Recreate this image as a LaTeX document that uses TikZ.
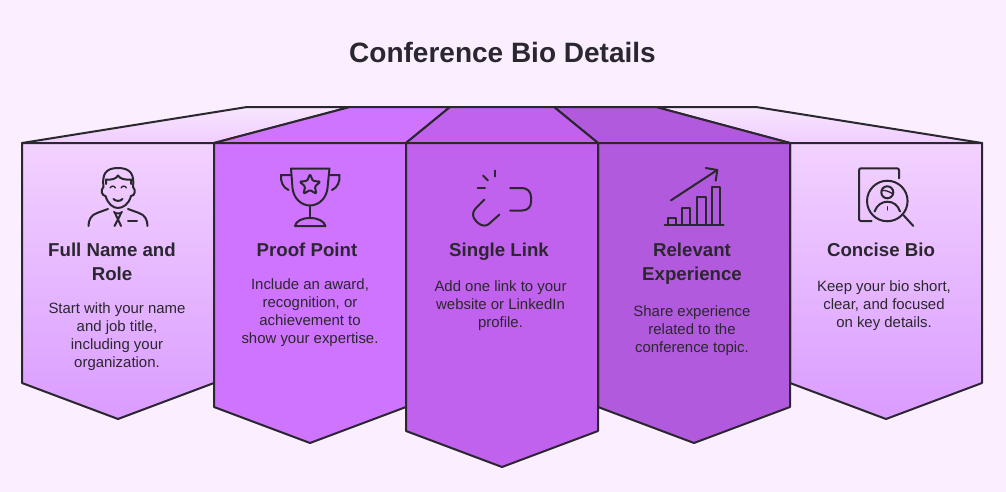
\documentclass[tikz,border=0pt]{standalone}
\usepackage{fontspec}
\setmainfont{Liberation Sans}
\definecolor{ink}{HTML}{2B272E}
\definecolor{bgc}{HTML}{FBEFFF}
\definecolor{lightA}{HTML}{F2D2FF}
\definecolor{lightB}{HTML}{DA9CFF}
\definecolor{topA}{HTML}{F8E6FF}
\definecolor{topB}{HTML}{F0CDFF}
\definecolor{fillB}{HTML}{CF74FF}
\definecolor{fillC}{HTML}{C162EE}
\definecolor{fillD}{HTML}{B25ADD}
\tikzset{
  x=0.75pt,y=-0.75pt,
  panel/.style={draw=ink,line width=1.5pt,line join=round},
  icon/.style={draw=ink,line width=1.5pt,line cap=round,line join=round},
  titletext/.style={text=ink,font=\bfseries\fontsize{21}{25}\selectfont,inner sep=0pt},
  headtext/.style={text=ink,font=\bfseries\fontsize{14}{18}\selectfont,align=center,inner sep=0pt},
  bodytext/.style={text=ink,font=\fontsize{11.2}{13.5}\selectfont,align=center,inner sep=0pt}
}
\begin{document}
\begin{tikzpicture}
\fill[bgc] (0,0) rectangle (1006,492);
\useasboundingbox (0,0) rectangle (1006,492);
\node[titletext] (title) at (502.5,52.5) {Conference Bio Details};
% top faces
\path[panel,top color=topA,bottom color=topB] (22,143) -- (247,107) -- (350,107) -- (214,143) -- cycle;
\path[panel,top color=topA,bottom color=topB] (982,143) -- (756,107) -- (656,107) -- (790,143) -- cycle;
\path[panel,fill=fillB] (214,143) -- (350,107) -- (450,107) -- (406,143) -- cycle;
\path[panel,fill=fillD] (598,143) -- (554,107) -- (656,107) -- (790,143) -- cycle;
\path[panel,fill=fillC] (406,143) -- (450,107) -- (554,107) -- (598,143) -- cycle;
% fronts
\path[panel,top color=lightA,bottom color=lightB] (22,143) -- (214,143) -- (214,383) -- (118,419) -- (22,383) -- cycle;
\path[panel,top color=lightA,bottom color=lightB] (790,143) -- (982,143) -- (982,383) -- (886,419) -- (790,383) -- cycle;
\path[panel,fill=fillB] (214,143) -- (406,143) -- (406,407) -- (310,443) -- (214,407) -- cycle;
\path[panel,fill=fillD] (598,143) -- (790,143) -- (790,407) -- (694,443) -- (598,407) -- cycle;
\path[panel,fill=fillC] (406,143) -- (598,143) -- (598,431) -- (502,467) -- (406,431) -- cycle;
% man icon
\draw[icon] (103.5,187) .. controls (102,175) and (105,168) .. (118,168) .. controls (131,168) and (134.5,175) .. (133,187);
\draw[icon] (103.5,187) .. controls (100,190) and (102,196) .. (105.5,196) .. controls (108,204) and (113,208) .. (118,208) .. controls (123,208) and (129,204) .. (131,196) .. controls (135,196) and (136,190) .. (133,187);
\draw[icon] (106,184) -- (106,179.5) .. controls (112,180) and (116,179) .. (118,175.5) .. controls (120,179) and (125,180) .. (131,179.5) -- (131,184);
\draw[icon,line width=1pt] (110,188) .. controls (111.5,185.5) and (114,185.5) .. (115.5,188);
\draw[icon,line width=1pt] (121,188) .. controls (122.5,185.5) and (125,185.5) .. (126.5,188);
\draw[icon] (113.5,199) .. controls (115.5,201.5) and (120.5,201.5) .. (122.5,199);
\draw[icon] (108,209) -- (97,213) .. controls (91,215) and (88.5,220) .. (88.5,226);
\draw[icon] (128,209) -- (139,213) .. controls (145,215) and (147.5,220) .. (147.5,226);
\draw[icon] (114,212) .. controls (115,214) and (121,214) .. (122,212);
\draw[icon] (115,213) .. controls (117,218) and (119,221) .. (121,226);
\draw[icon] (121,213) .. controls (119,218) and (117,221) .. (114.5,226);
\draw[icon] (128,220.5) -- (137,220.5);
% trophy icon
\draw[icon] (291,168.5) -- (329.5,168.5) -- (327.5,188) .. controls (326.5,198) and (319,205.5) .. (310,205.5) .. controls (301,205.5) and (293.5,198) .. (292.5,188) -- cycle;
\draw[icon] (310,205.5) -- (310,218);
\draw[icon] (295,226) .. controls (296,221) and (302,218) .. (310,218) .. controls (318,218) and (324,221) .. (325.5,226) -- cycle;
\draw[icon] (291,175) -- (281,175) .. controls (280.5,182) and (283,187.5) .. (288.5,190);
\draw[icon] (329.5,175) -- (339.5,175) .. controls (340,182) and (337.5,187.5) .. (332,190);
\draw[icon,rounded corners=1pt] (310,174) -- (312.9,181) -- (320.5,181.6) -- (314.8,186.5) -- (316.5,193.9) -- (310,190) -- (303.5,193.9) -- (305.2,186.5) -- (299.5,181.6) -- (307.1,181) -- cycle;
% link icon
\draw[icon] (495,170.5) -- (495,176.5);
\draw[icon] (483,175.5) -- (488,180.5);
\draw[icon] (477.5,188) -- (485,188);
\draw[icon] (510,188) -- (522,188) .. controls (527.5,188) and (531,192) .. (531,197) -- (531,202) .. controls (531,207) and (527.5,210.5) .. (522,210.5) -- (510,210.5);
\draw[icon] (484.5,199.5) -- (476,208) .. controls (472,212) and (472,217) .. (476,221) -- (478,223) .. controls (482,226.5) and (487,226.5) .. (490,223) -- (499.5,214.5);
% chart icon
\draw[icon] (664.5,225) -- (723.5,225);
\draw[icon] (667.5,225) -- (667.5,217.7) -- (675.7,217.7) -- (675.7,225);
\draw[icon] (682.3,225) -- (682.3,207.7) -- (690.3,207.7) -- (690.3,225);
\draw[icon] (697.3,225) -- (697.3,197.3) -- (705.7,197.3) -- (705.7,225);
\draw[icon] (712.3,225) -- (712.3,187.3) -- (720.3,187.3) -- (720.3,225);
\draw[icon] (671,200.3) -- (717.3,170);
\draw[icon] (705.7,168) -- (717.3,170) -- (715.7,180.7);
% bio icon
\draw[icon,rounded corners=1.5pt] (871.7,221) -- (859,221) -- (859,168.3) -- (899,168.3) -- (899,178.3);
\draw[icon] (887.3,201) circle[radius=15.2pt];
\draw[icon] (903.3,215) -- (913.3,226);
\draw[icon] (887.3,192.3) circle[radius=4.5pt];
\draw[icon,line width=1pt] (881.5,190.8) .. controls (885,189.5) and (890,192) .. (893,194);
\draw[icon] (874.5,211.5) .. controls (877,205) and (882,201.7) .. (887.3,201.7) .. controls (893,201.7) and (898,205) .. (900,211.5);
\draw[icon,line width=1pt] (887.3,206.7) -- (887.3,210);
% texts
\node[headtext] (h1) at (112,262) {Full Name and\\Role};
\node[bodytext] (b1) at (117,337) {Start with your name\\and job title,\\including your\\organization.};
\node[headtext] (h2) at (307,250) {Proof Point};
\node[bodytext] (b2) at (310,313) {Include an award,\\recognition, or\\achievement to\\show your expertise.};
\node[headtext] (h3) at (499,252) {Single Link};
\node[bodytext] (b3) at (500.5,306) {Add one link to your\\website or LinkedIn\\profile.};
\node[headtext] (h4) at (692,264) {Relevant\\Experience};
\node[bodytext] (b4) at (692,331) {Share experience\\related to the\\conference topic.};
\node[headtext] (h5) at (881,250) {Concise Bio};
\node[bodytext] (b5) at (884,306) {Keep your bio short,\\clear, and focused\\on key details.};
\end{tikzpicture}
\end{document}
